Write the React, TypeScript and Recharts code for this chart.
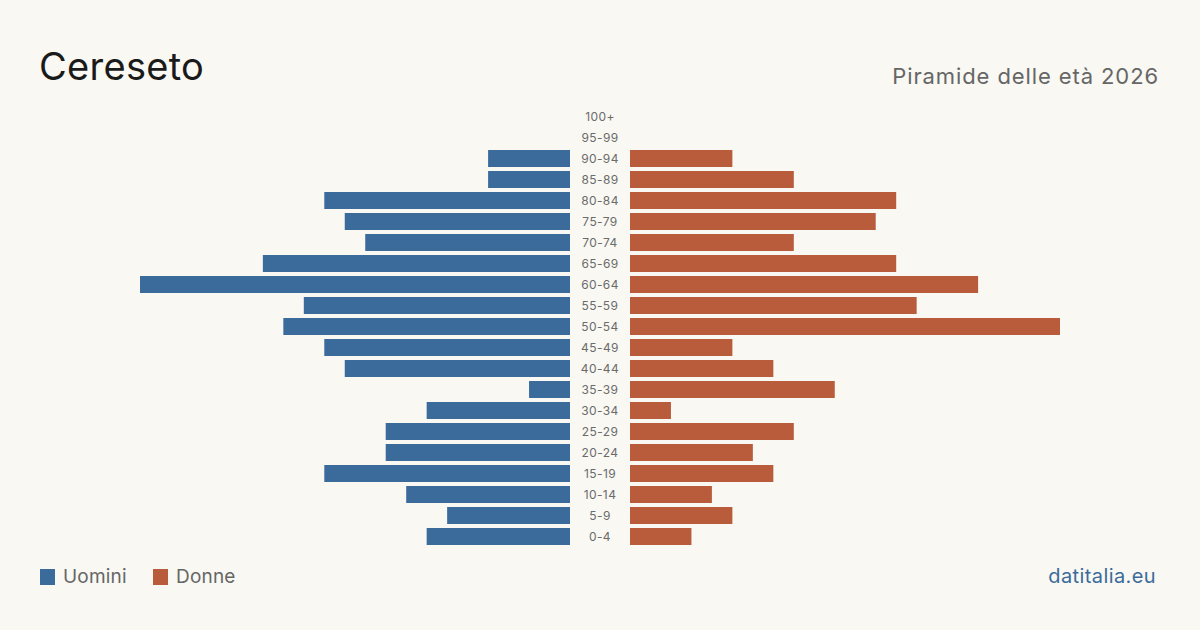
import React from "react";
import { BarChart, Bar, XAxis, YAxis } from "recharts";

// age bands, oldest first (top of the pyramid)
const ageGroups = [
  "100+", "95-99", "90-94", "85-89", "80-84", "75-79", "70-74", "65-69",
  "60-64", "55-59", "50-54", "45-49", "40-44", "35-39", "30-34", "25-29",
  "20-24", "15-19", "10-14", "5-9", "0-4",
];
const men = [0, 0, 4, 4, 12, 11, 10, 15, 21, 13, 14, 12, 11, 2, 7, 9, 9, 12, 8, 6, 7];
const women = [0, 0, 5, 8, 13, 12, 8, 13, 17, 14, 21, 5, 7, 10, 2, 8, 6, 7, 4, 5, 3];
const maxValue = 21;

const BLUE = "#3b6b9b";
const ORANGE = "#b95c3c";
const BG = "#f9f8f3";
const FONT = "Inter, 'Noto Sans', sans-serif";

const rows = ageGroups.map((age, i) => ({ age, men: men[i], women: women[i] }));

const ROW = 21;
const chartHeight = ROW * ageGroups.length;
const barWidth = 430;

const AgeTick = ({ y, payload }: any) => (
  <text x={30} y={y} dy={4} textAnchor="middle" fontSize={12} fill="#6b6b6b" fontFamily={FONT}
    letterSpacing={0.4}>
    {payload.value}
  </text>
);

const Pyramid = () => (
  <>
    <div style={{ position: "absolute", left: 140, top: 106 }}>
      <BarChart width={barWidth} height={chartHeight} data={rows} layout="vertical"
        margin={{ top: 0, right: 0, bottom: 0, left: 0 }} barCategoryGap={2}>
        <XAxis type="number" domain={[0, maxValue]} reversed hide />
        <YAxis type="category" dataKey="age" hide />
        <Bar dataKey="men" fill={BLUE} isAnimationActive={false} />
      </BarChart>
    </div>
    <div style={{ position: "absolute", left: 570, top: 106 }}>
      <BarChart width={60 + barWidth} height={chartHeight} data={rows} layout="vertical"
        margin={{ top: 0, right: 0, bottom: 0, left: 0 }} barCategoryGap={2}>
        <XAxis type="number" domain={[0, maxValue]} hide />
        <YAxis type="category" dataKey="age" width={60} axisLine={false} tickLine={false}
          tick={<AgeTick />} interval={0} />
        <Bar dataKey="women" fill={ORANGE} isAnimationActive={false} />
      </BarChart>
    </div>
  </>
);

const LegendItem = ({ color, label, left }: { color: string; label: string; left: number }) => (
  <div style={{ position: "absolute", left, top: 567, display: "flex", alignItems: "center" }}>
    <div style={{ width: 15, height: 16, background: color, marginRight: 8 }} />
    <span style={{ fontSize: 19, color: "#666", lineHeight: "20px", letterSpacing: 0.2 }}>{label}</span>
  </div>
);

export default function App() {
  return (
    <div style={{ position: "absolute", left: 0, top: 0, width: 1200, height: 630, background: BG,
      fontFamily: FONT, overflow: "hidden" }}>
      <div style={{ position: "absolute", left: 39, top: 41, fontSize: 38, color: "#1a1a1a",
        lineHeight: "50px", letterSpacing: 0.3 }}>
        Cereseto
      </div>
      <div style={{ position: "absolute", right: 41, top: 62, fontSize: 22, color: "#666",
        lineHeight: "28px", letterSpacing: 0.9 }}>
        Piramide delle età 2026
      </div>
      <Pyramid />
      <LegendItem color={BLUE} label="Uomini" left={40} />
      <LegendItem color={ORANGE} label="Donne" left={153} />
      <div style={{ position: "absolute", right: 44, top: 563, fontSize: 20, color: BLUE,
        lineHeight: "26px", letterSpacing: 0.4 }}>
        datitalia.eu
      </div>
    </div>
  );
}
